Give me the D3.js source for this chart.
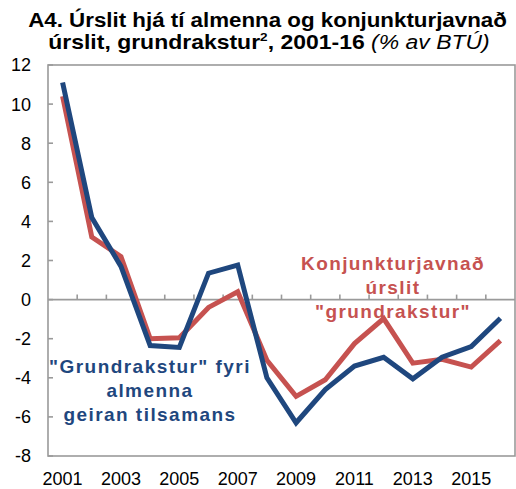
<!DOCTYPE html>
<html><head><meta charset="utf-8">
<script src="https://cdn.jsdelivr.net/npm/d3@7"></script>
<style>body{margin:0;background:#fff;} svg{display:block;font-family:"Liberation Sans",Arial,sans-serif;}</style>
</head><body>
<svg id="c" width="516" height="489"></svg>
<script>
const years = [2001,2002,2003,2004,2005,2006,2007,2008,2009,2010,2011,2012,2013,2014,2015,2016];
const blueValues = [11.1,4.2,1.7,-2.35,-2.45,1.35,1.77,-4.0,-6.3,-4.6,-3.4,-2.95,-4.05,-2.95,-2.4,-0.95];
const redValues = [10.4,3.2,2.2,-2.0,-1.95,-0.4,0.4,-3.1,-4.95,-4.1,-2.25,-0.97,-3.25,-3.05,-3.45,-2.1];
const yTicks = [-8,-6,-4,-2,0,2,4,6,8,10,12];
const xLabelYears = [2001,2003,2005,2007,2009,2011,2013,2015];
const titleLine1 = "A4. Úrslit hjá tí almenna og konjunkturjavnað";
const redLabel = ["Konjunkturjavnað","úrslit","\"grundrakstur\""];
const blueLabel = ["\"Grundrakstur\" fyri","almenna","geiran tilsamans"];

const blue = "#1f477e", red = "#c65250", axisCol = "#9a9a9a";
const svg = d3.select("#c");
const L = 48, R = 515, T = 65, B = 456;

const x = d3.scaleBand().domain(years).range([L, R]);
const y = d3.scaleLinear().domain([-8, 12]).range([B, T]);

// frame
svg.append("rect").attr("x", L).attr("y", T).attr("width", R - L).attr("height", B - T)
  .attr("fill", "none").attr("stroke", axisCol).attr("stroke-width", 1.6);

// left axis ticks
svg.append("g").selectAll("line").data(yTicks).join("line")
  .attr("x1", L).attr("x2", L + 5).attr("y1", d => y(d)).attr("y2", d => y(d))
  .attr("stroke", axisCol).attr("stroke-width", 1.6);
svg.append("g").selectAll("text").data(yTicks).join("text")
  .attr("x", 31).attr("y", d => y(d)).attr("dy", "0.36em").attr("text-anchor", "end")
  .attr("font-size", 18).attr("fill", "#000").text(d => d);

// zero line with ticks
svg.append("line").attr("x1", L).attr("x2", R).attr("y1", y(0)).attr("y2", y(0))
  .attr("stroke", axisCol).attr("stroke-width", 1.6);
svg.append("g").selectAll("line").data(years.slice(1)).join("line")
  .attr("x1", d => x(d)).attr("x2", d => x(d)).attr("y1", y(0)).attr("y2", y(0) - 5)
  .attr("stroke", axisCol).attr("stroke-width", 1.6);

// x labels
svg.append("g").selectAll("text").data(xLabelYears).join("text")
  .attr("x", d => x(d) + x.bandwidth() / 2).attr("y", 484.5)
  .attr("text-anchor", "middle").attr("font-size", 18).attr("fill", "#000").text(d => d);

// lines
const line = d3.line().x((d, i) => x(years[i]) + x.bandwidth() / 2).y(d => y(d));
svg.append("path").datum(redValues).attr("d", line).attr("fill", "none")
  .attr("stroke", red).attr("stroke-width", 5).attr("stroke-linejoin", "miter");
svg.append("path").datum(blueValues).attr("d", line).attr("fill", "none")
  .attr("stroke", blue).attr("stroke-width", 5).attr("stroke-linejoin", "miter");

// labels
svg.append("g").selectAll("text").data(redLabel).join("text")
  .attr("x", 393).attr("y", (d, i) => 263 + i * 24).attr("dy", "0.36em")
  .attr("text-anchor", "middle").attr("font-size", 19).attr("font-weight", "bold")
  .attr("letter-spacing", 1.4).attr("fill", red).text(d => d);
svg.append("g").selectAll("text").data(blueLabel).join("text")
  .attr("x", 150).attr("y", (d, i) => 366 + i * 24).attr("dy", "0.36em")
  .attr("text-anchor", "middle").attr("font-size", 19).attr("font-weight", "bold")
  .attr("letter-spacing", 1.45).attr("fill", blue).text(d => d);

// title (stretched horizontally to match reference glyph widths)
function fitWidth(sel, cx, width) {
  const w = sel.node().getBBox().width;
  const k = width / w;
  sel.attr("transform", `translate(${cx},0) scale(${k},1)`);
}
const t1 = svg.append("text").attr("x", 0).attr("y", 27).attr("text-anchor", "middle")
  .attr("font-size", 19.5).attr("font-weight", "bold").attr("fill", "#000").text(titleLine1);
fitWidth(t1, 267.5, 479);
const t2 = svg.append("text").attr("x", 0).attr("y", 49).attr("text-anchor", "middle")
  .attr("font-size", 19.5).attr("fill", "#000");
t2.append("tspan").attr("font-weight", "bold").text("úrslit, grundrakstur");
t2.append("tspan").attr("font-weight", "bold").attr("font-size", 11.5).attr("dy", -7.5).text("2");
t2.append("tspan").attr("font-weight", "bold").attr("dy", 7.5).text(", 2001-16 ");
t2.append("tspan").attr("font-style", "italic").text("(% av BTÚ)");
fitWidth(t2, 269, 442);
</script>
</body></html>
